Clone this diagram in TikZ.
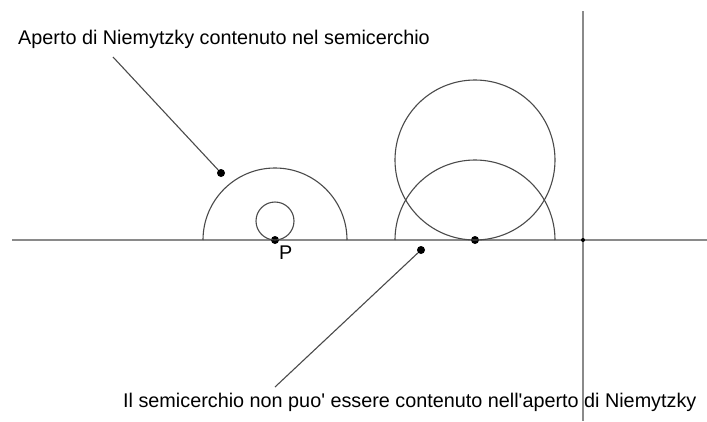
\documentclass[tikz,border=0pt]{standalone}
\usepackage{fontspec}
\setmainfont{Liberation Sans}
\usepackage{tikz}
\usetikzlibrary{positioning}
\definecolor{axisgray}{HTML}{8a8a8a}
\definecolor{curvegray}{HTML}{4a4a4a}

\begin{document}
\begin{tikzpicture}[
  x=1pt,y=-1pt,
  axis/.style={draw=axisgray,line width=2pt},
  curve/.style={draw=curvegray,line width=1.1pt},
  leader/.style={draw=curvegray,line width=1.1pt},
  dot/.style={circle,fill=black,inner sep=0pt,minimum size=8pt},
  smalldot/.style={circle,fill=black,inner sep=0pt,minimum size=4pt},
  note/.style={font=\fontsize{19.8}{23}\selectfont,inner sep=0pt},
]
\useasboundingbox (0,0) rectangle (707,421);

% Axes
\coordinate (xstart) at (12,240);
\coordinate (xend) at (707,240);
\coordinate (ystart) at (583,11);
\coordinate (yend) at (583,421);
\draw[axis] (xstart) -- (xend);
\draw[axis] (ystart) -- (yend);

% Left: semicircle around P with small tangent circle
\node[dot] (P) at (275,240) {};
\node[note,anchor=north west] (Plabel) at (279,246) {P};
\draw[curve] (203,240) arc[start angle=180,end angle=360,radius=72];
\draw[curve] (275,221) circle[radius=19];
\node[dot] (outerpt) at (221,173) {};

% Right: semicircle and tangent circle
\node[dot] (Q) at (475,240) {};
\draw[curve] (395,240) arc[start angle=180,end angle=360,radius=80];
\draw[curve] (475,160) circle[radius=80];
\node[dot] (belowpt) at (421,250) {};
\node[smalldot] (origin) at (583,240) {};

% Labels
\node[note,anchor=base west] (toptext) at (18,44) {Aperto di Niemytzky contenuto nel semicerchio};
\node[note,anchor=base west] (bottext) at (123,407) {Il semicerchio non puo\textquotesingle{} essere contenuto nell\textquotesingle aperto di Niemytzky};
\coordinate (topend) at (113,57);
\coordinate (botend) at (275,387);
\draw[leader] (topend) -- (outerpt);
\draw[leader] (botend) -- (belowpt);

\end{tikzpicture}
\end{document}
